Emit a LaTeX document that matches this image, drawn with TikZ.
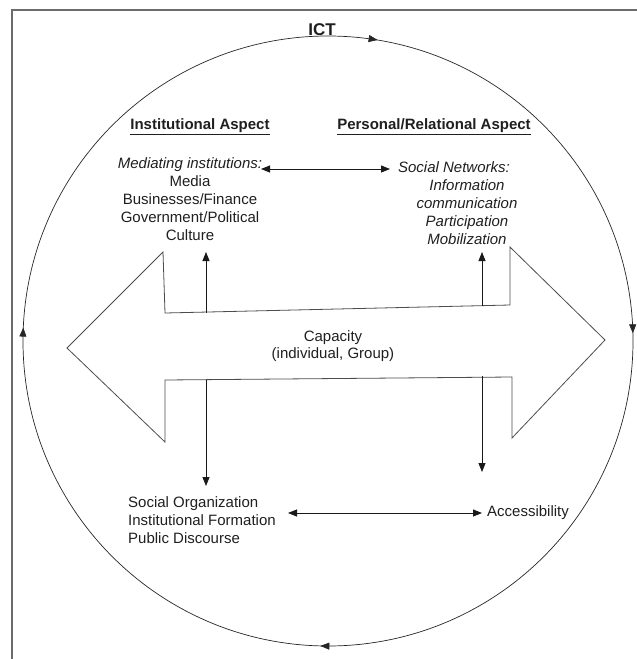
\documentclass[tikz,border=0pt]{standalone}
\usepackage{fontspec}
\setmainfont{Liberation Sans}
\usetikzlibrary{arrows.meta,decorations.markings}
\begin{document}
\begin{tikzpicture}[x=1pt,y=-1pt,
  txt/.style={font=\fontsize{15}{18}\selectfont, text=black!88, inner sep=0pt},
  boldtxt/.style={txt, font=\fontsize{15}{18}\selectfont\bfseries},
  ittxt/.style={txt, font=\fontsize{15}{18}\selectfont\itshape},
  conn/.style={line width=0.8pt, black!90},
  onetip/.style={-{Triangle[length=9pt,width=7pt]}},
  twotip/.style={{Triangle[length=9pt,width=7pt]}-{Triangle[length=9pt,width=7pt]}},
  frameline/.style={gray!85!black, line width=1.6pt},
  bigarrow/.style={gray!60!black, line width=0.8pt, line join=miter}
]
\useasboundingbox (0,0) rectangle (637,659);

% frame
\draw[frameline] (12,659) -- (12,10) -- (637,10);

% ICT cycle
\draw[line width=0.7pt, black!85, decoration={markings,
    mark=at position 0.254 with {\arrow{Triangle[length=9pt,width=7pt]}},
    mark=at position 0.507 with {\arrow{Triangle[length=9pt,width=7pt]}},
    mark=at position 0.776 with {\arrow{Triangle[length=9pt,width=7pt]}},
    mark=at position 0.996 with {\arrow{Triangle[length=9pt,width=7pt]}}},
  postaction={decorate}] (328,341) circle[radius=305];

% big double arrow
\draw[bigarrow] (67,348) -- (163,252) -- (165,313) -- (510,305) -- (510,247)
  -- (605,340) -- (512,438) -- (512,377) -- (165,380) -- (165,442) -- cycle;

% texts
\node[txt, font=\fontsize{17}{20}\selectfont\bfseries] (ict) at (322,30) {ICT};
\node[boldtxt] (inst) at (200,127) {\underline{Institutional Aspect}};
\node[boldtxt] (pers) at (434,127) {\underline{Personal/Relational Aspect}};
\node[txt, align=center] (med) at (190,199)
  {\textit{Mediating institutions:}\\Media\\Businesses/Finance\\Government/Political\\Culture};
\node[ittxt, align=center] (sn) at (467,203)
  {Social Networks:\hspace*{26pt}\\Information\\communication\\Participation\\Mobilization};
\node[txt, align=center, font=\fontsize{15}{16.5}\selectfont] (cap) at (333,346)
  {Capacity\\(individual, Group)};
\node[txt, align=left, anchor=west] (so) at (128,520)
  {Social Organization\\Institutional Formation\\Public Discourse};
\node[txt, anchor=west] (acc) at (487,513) {Accessibility};

% connector end points
\coordinate (ul0) at (206,313);
\coordinate (ul1) at (206,252);
\coordinate (ur0) at (482,306);
\coordinate (ur1) at (482,252);
\coordinate (dl0) at (206,380);
\coordinate (dl1) at (206,486);
\coordinate (dr0) at (482,376);
\coordinate (dr1) at (482,472);
\coordinate (ta) at (261,169);
\coordinate (tb) at (390,169);
\coordinate (ba) at (288,513);
\coordinate (bb) at (482,513);

% connectors
\draw[conn, onetip] (ul0) -- (ul1);
\draw[conn, onetip] (ur0) -- (ur1);
\draw[conn, onetip] (dl0) -- (dl1);
\draw[conn, onetip] (dr0) -- (dr1);
\draw[conn, twotip] (ta) -- (tb);
\draw[conn, twotip] (ba) -- (bb);
\end{tikzpicture}
\end{document}
